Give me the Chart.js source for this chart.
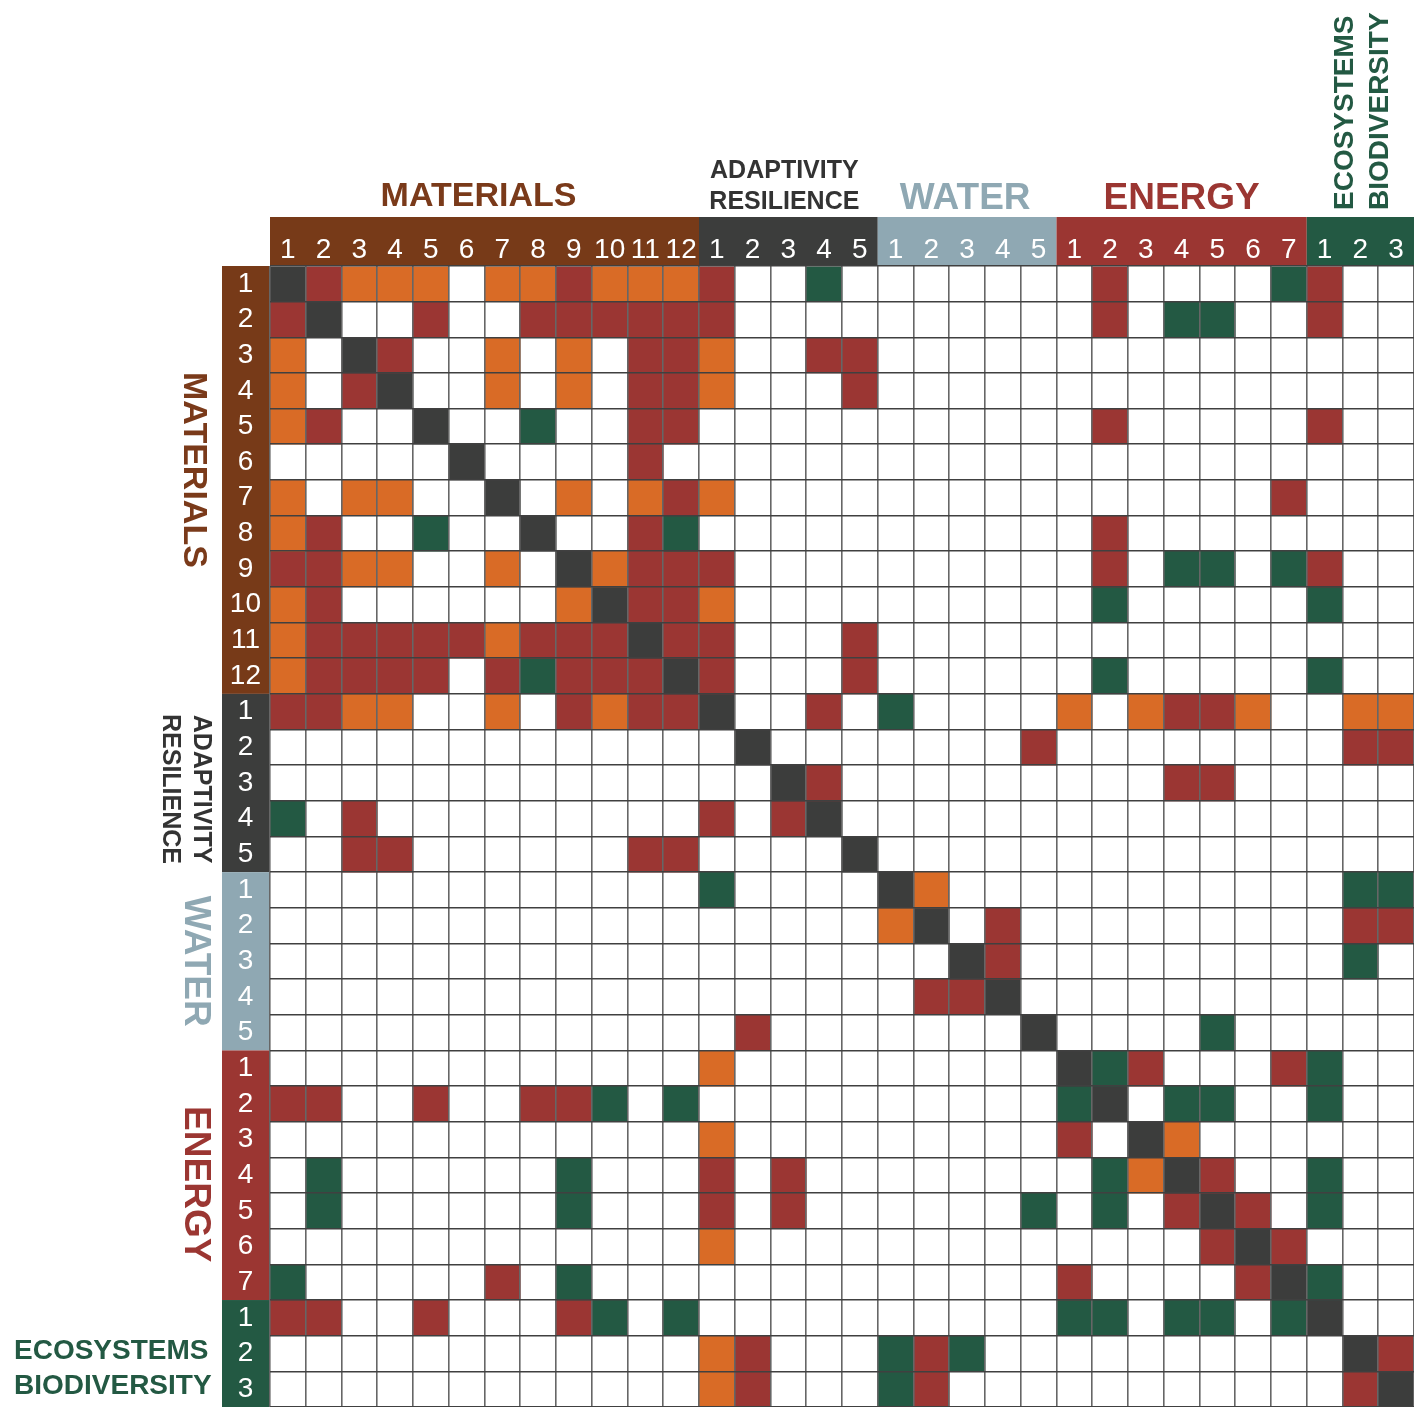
<!DOCTYPE html>
<html>
<head>
<meta charset="utf-8">
<script src="https://cdn.jsdelivr.net/npm/chart.js@4.4.0/dist/chart.umd.min.js"></script>
<style>
  html, body { margin: 0; padding: 0; background: #fff; }
  canvas { display: block; }
</style>
</head>
<body>
<canvas id="matrix" width="1414" height="1407"></canvas>
<script>
// groups, same order on both axes
const groupNames = [['MATERIALS'], ['ADAPTIVITY', 'RESILIENCE'], ['WATER'], ['ENERGY'], ['ECOSYSTEMS', 'BIODIVERSITY']];
const groupSizes = [12, 5, 5, 7, 3];

// tick labels (item number inside each group)
const itemLabels = ['1','2','3','4','5','6','7','8','9','10','11','12',
                    '1','2','3','4','5',
                    '1','2','3','4','5',
                    '1','2','3','4','5','6','7',
                    '1','2','3'];

// one string per row, one letter per column (spaces split the groups)
// D = item itself, R / O / G = kind of link, . = no link
const materialsRows = [
  'DROOO.OOROOO R..G. ..... .R....G R..',
  'RD..R..RRRRR R.... ..... .R.GG.. R..',
  'O.DR..O.O.RR O..RR ..... ....... ...',
  'O.RD..O.O.RR O...R ..... ....... ...',
  'OR..D..G..RR ..... ..... .R..... R..',
  '.....D....R. ..... ..... ....... ...',
  'O.OO..D.O.OR O.... ..... ......R ...',
  'OR..G..D..RG ..... ..... .R..... ...',
  'RROO..O.DORR R.... ..... .R.GG.G R..',
  'OR......ODRR O.... ..... .G..... G..',
  'ORRRRRORRRDR R...R ..... ....... ...',
  'ORRRR.RGRRRD R...R ..... .G..... G..'
];
const adaptivityRows = [
  'RROO..O.RORR D..R. G.... O.ORRO. .OO',
  '............ .D... ....R ....... .RR',
  '............ ..DR. ..... ...RR.. ...',
  'G.R......... R.RD. ..... ....... ...',
  '..RR......RR ....D ..... ....... ...'
];
const waterRows = [
  '............ G.... DO... ....... .GG',
  '............ ..... OD.R. ....... .RR',
  '............ ..... ..DR. ....... .G.',
  '............ ..... .RRD. ....... ...',
  '............ .R... ....D ....G.. ...'
];
const energyRows = [
  '............ O.... ..... DGR...R G..',
  'RR..R..RRG.G ..... ..... GD.GG.. G..',
  '............ O.... ..... R.DO... ...',
  '.G......G... R.R.. ..... .GODR.. G..',
  '.G......G... R.R.. ....G .G.RDR. G..',
  '............ O.... ..... ....RDR ...',
  'G.....R.G... ..... ..... R....RD G..'
];
const ecosystemRows = [
  'RR..R...RG.G ..... ..... GG.GG.G D..',
  '............ OR... GRG.. ....... .DR',
  '............ OR... GR... ....... .RD'
];

const cellColors = { D: '#3c3d3c', R: '#9b3633', O: '#d96b26', G: '#235943' };
const bandColors = ['#773a18', '#3c3d3c', '#8fa8b3', '#9b3632', '#235943'];
const titleColors = ['#7a3a1a', '#333333', '#8fa8b3', '#9b3632', '#235943'];
const fam = '"Liberation Sans", Arial, sans-serif';

const matrix = [...materialsRows, ...adaptivityRows, ...waterRows, ...energyRows, ...ecosystemRows]
  .map(r => r.replace(/ /g, '').split(''));

const datasets = matrix.map((cells, r) => ({
  data: cells.map(c => c === '.' ? null : [r, r + 1]),
  backgroundColor: cells.map(c => cellColors[c] || '#ffffff'),
  borderWidth: 0,
  grouped: false,
  barPercentage: 1,
  categoryPercentage: 1
}));

function groupBands(chart) {
  const x = chart.scales.x, y = chart.scales.y, rows = chart.scales.rows;
  const cw = (x.right - x.left) / itemLabels.length;
  const out = [];
  let start = 0;
  groupSizes.forEach(n => {
    out.push({
      x0: x.getPixelForValue(start) - cw / 2,
      x1: x.getPixelForValue(start + n - 1) + cw / 2,
      y0: y.getPixelForValue(start),
      y1: y.getPixelForValue(start + n),
      top: x.top, bottom: x.bottom,
      left: rows.left, right: rows.right
    });
    start += n;
  });
  return out;
}

// no extra room for half labels, the cells are offset already
function noPadding(s) {
  s.paddingTop = 0; s.paddingBottom = 0; s.paddingLeft = 0; s.paddingRight = 0;
}

const bandsPlugin = {
  id: 'bands',
  beforeDraw(chart) {
    const ctx = chart.ctx;
    groupBands(chart).forEach((b, g) => {
      ctx.fillStyle = bandColors[g];
      ctx.fillRect(b.x0, b.top, b.x1 - b.x0, b.bottom - b.top);
      ctx.fillRect(b.left, b.y0, b.right - b.left, b.y1 - b.y0);
    });
  },
  afterDraw(chart) {
    const ctx = chart.ctx;
    const bands = groupBands(chart);
    const top = bands[0].top;
    const left = bands[0].left;
    ctx.save();

    // titles above the columns
    ctx.textAlign = 'center';
    ctx.textBaseline = 'alphabetic';
    let b = bands[0];
    ctx.fillStyle = titleColors[0];
    ctx.font = 'bold 34px ' + fam;
    ctx.fillText(groupNames[0][0], (b.x0 + b.x1) / 2 - 6, top - 11);

    b = bands[1];
    ctx.fillStyle = titleColors[1];
    ctx.font = 'bold 25px ' + fam;
    ctx.fillText(groupNames[1][0], (b.x0 + b.x1) / 2 - 4, top - 39);
    ctx.fillText(groupNames[1][1], (b.x0 + b.x1) / 2 - 4, top - 8);

    b = bands[2];
    ctx.fillStyle = titleColors[2];
    ctx.font = 'bold 37px ' + fam;
    ctx.fillText(groupNames[2][0], (b.x0 + b.x1) / 2 - 2, top - 8);

    b = bands[3];
    ctx.fillStyle = titleColors[3];
    ctx.fillText(groupNames[3][0], (b.x0 + b.x1) / 2, top - 8);

    b = bands[4];
    ctx.fillStyle = titleColors[4];
    ctx.font = 'bold 28px ' + fam;
    ctx.textAlign = 'left';
    ctx.textBaseline = 'middle';
    const cx = (b.x0 + b.x1) / 2;
    [[groupNames[4][0], cx - 15], [groupNames[4][1], cx + 20]].forEach(([t, px]) => {
      ctx.save();
      ctx.translate(px, top - 7);
      ctx.rotate(-Math.PI / 2);
      ctx.fillText(t, 0, 0);
      ctx.restore();
    });

    // titles left of the rows
    ctx.textAlign = 'center';
    const side = (text, px, py, font, color) => {
      ctx.save();
      ctx.fillStyle = color;
      ctx.font = font;
      ctx.translate(px, py);
      ctx.rotate(Math.PI / 2);
      ctx.fillText(text, 0, 0);
      ctx.restore();
    };
    b = bands[0];
    side(groupNames[0][0], left - 29, (b.y0 + b.y1) / 2 - 10, 'bold 34px ' + fam, titleColors[0]);
    b = bands[1];
    side(groupNames[1][0], left - 21, (b.y0 + b.y1) / 2 + 6, 'bold 25px ' + fam, titleColors[1]);
    side(groupNames[1][1], left - 52, (b.y0 + b.y1) / 2 + 6, 'bold 25px ' + fam, titleColors[1]);
    b = bands[2];
    side(groupNames[2][0], left - 27, (b.y0 + b.y1) / 2, 'bold 37px ' + fam, titleColors[2]);
    b = bands[3];
    side(groupNames[3][0], left - 27, (b.y0 + b.y1) / 2 + 9, 'bold 37px ' + fam, titleColors[3]);

    b = bands[4];
    ctx.textAlign = 'left';
    ctx.textBaseline = 'alphabetic';
    ctx.fillStyle = titleColors[4];
    ctx.font = 'bold 28px ' + fam;
    ctx.fillText(groupNames[4][0], 14, b.y0 + 59);
    ctx.fillText(groupNames[4][1], 14, b.y0 + 94);
    ctx.restore();
  }
};

new Chart(document.getElementById('matrix'), {
  type: 'bar',
  data: { labels: itemLabels, datasets: datasets },
  options: {
    responsive: false,
    animation: false,
    events: [],
    layout: { padding: { top: 217, left: 222, right: 0, bottom: 0 } },
    plugins: { legend: { display: false }, tooltip: { enabled: false } },
    scales: {
      x: {
        type: 'category',
        position: 'top',
        offset: true,
        grid: { offset: true, color: '#666666', lineWidth: 1.6, drawTicks: false, z: 1 },
        border: { display: false },
        ticks: { color: '#ffffff', font: { family: fam, size: 28 }, padding: -1, autoSkip: false, maxRotation: 0 },
        afterFit(s) { s.height = 49; noPadding(s); }
      },
      y: {
        type: 'linear',
        position: 'right',
        reverse: true,
        min: 0,
        max: 32,
        grid: { color: '#404040', lineWidth: 1.6, drawTicks: false, z: 1 },
        border: { display: false },
        ticks: { display: false, stepSize: 1, maxTicksLimit: 40 },
        afterFit(s) { s.width = 0; noPadding(s); }
      },
      rows: {
        type: 'category',
        position: 'left',
        labels: itemLabels,
        offset: true,
        grid: { display: false, drawTicks: false },
        border: { display: false },
        ticks: { color: '#ffffff', font: { family: fam, size: 28 }, crossAlign: 'center', padding: 9, autoSkip: false },
        afterFit(s) { s.width = 48; noPadding(s); }
      }
    }
  },
  plugins: [bandsPlugin]
});
</script>
</body>
</html>
